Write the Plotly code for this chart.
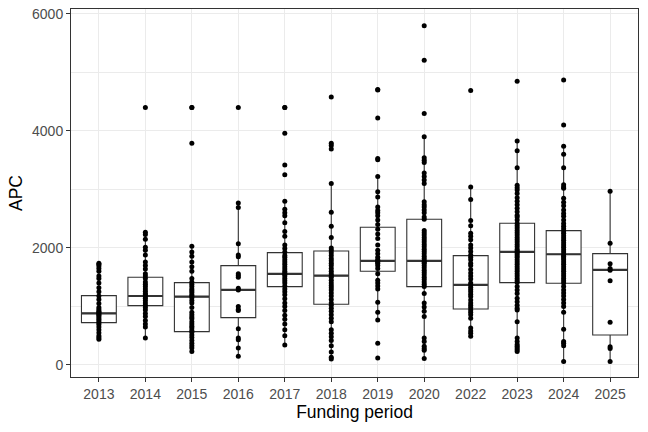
import plotly.graph_objects as go

periods = ["2013", "2014", "2015", "2016", "2017", "2018",
           "2019", "2020", "2022", "2023", "2024", "2025"]

# APC values per funding period
apc_2013 = [1740, 1720, 1690, 1650, 1600, 1520, 1480, 1400, 1320, 1250, 1180,
            1120, 1050, 980, 950, 920, 900, 880, 860, 840, 810, 780, 750, 720,
            690, 650, 600, 550, 500, 470, 440]
apc_2014 = [4400, 2270, 2230, 2150, 2010, 1960, 1880, 1760, 1700, 1640, 1560,
            1520, 1480, 1420, 1380, 1340, 1300, 1260, 1220, 1200, 1170, 1140,
            1100, 1060, 1020, 980, 940, 880, 830, 760, 700, 650, 460]
apc_2015 = [4400, 4400, 3790, 2030, 1930, 1860, 1760, 1680, 1600, 1480, 1420,
            1380, 1340, 1300, 1270, 1240, 1200, 1180, 1150, 1100, 1060, 980,
            900, 860, 820, 790, 740, 700, 660, 630, 590, 560, 510, 470, 420,
            370, 330, 290, 230]
apc_2016 = [4400, 2770, 2690, 2070, 1880, 1850, 1560, 1530, 1500, 1310, 1280,
            1000, 950, 930, 620, 460, 430, 290, 150]
apc_2017 = [4400, 4400, 3960, 3420, 3250, 2800, 2660, 2600, 2550, 2430, 2280,
            2200, 2050, 1990, 1930, 1870, 1840, 1800, 1760, 1720, 1680, 1640,
            1600, 1570, 1550, 1520, 1480, 1440, 1400, 1350, 1300, 1250, 1200,
            1130, 1060, 1000, 930, 850, 780, 700, 600, 500, 340]
apc_2018 = [4580, 3790, 3750, 3690, 3100, 2610, 2370, 2180, 2000, 1960, 1920,
            1870, 1820, 1780, 1740, 1700, 1650, 1600, 1560, 1530, 1500, 1450,
            1400, 1360, 1320, 1280, 1230, 1180, 1120, 1060, 1020, 970, 920, 860,
            800, 740, 600, 540, 480, 420, 330, 220, 130, 100]
apc_2019 = [4710, 4700, 4220, 3530, 3510, 3220, 2960, 2870, 2700, 2640, 2600,
            2550, 2480, 2400, 2320, 2240, 2160, 2050, 1960, 1900, 1840, 1800,
            1780, 1760, 1740, 1700, 1650, 1560, 1450, 1400, 1350, 1300, 1070,
            900, 770, 370, 120]
apc_2020 = [5800, 5210, 4300, 3900, 3540, 3500, 3460, 3280, 3220, 3160, 3100,
            2790, 2740, 2700, 2650, 2600, 2530, 2490, 2300, 2260, 2220, 2180,
            2140, 2100, 2060, 2020, 1980, 1940, 1900, 1860, 1820, 1780, 1760,
            1740, 1700, 1660, 1620, 1580, 1540, 1500, 1460, 1420, 1380, 1340,
            1220, 1060, 990, 920, 830, 460, 400, 320, 280, 250, 110]
apc_2022 = [4690, 3040, 2830, 2470, 2380, 2250, 2200, 2140, 2050, 2000, 1940,
            1880, 1840, 1800, 1740, 1700, 1630, 1570, 1520, 1470, 1400, 1370,
            1330, 1290, 1250, 1210, 1170, 1110, 1060, 1020, 980, 940, 900, 860,
            800, 630, 580, 540, 490]
apc_2023 = [4850, 3830, 3660, 3370, 3070, 3030, 2990, 2930, 2860, 2800, 2740,
            2680, 2620, 2560, 2530, 2480, 2420, 2380, 2340, 2300, 2260, 2220,
            2180, 2140, 2100, 2060, 2020, 1980, 1950, 1930, 1900, 1870, 1840,
            1800, 1760, 1720, 1680, 1640, 1600, 1560, 1520, 1480, 1440, 1410,
            1340, 1280, 1220, 1140, 1080, 1020, 970, 940, 740, 460, 400, 350,
            320, 290, 260, 230]
apc_2024 = [4870, 4100, 3740, 3600, 3370, 3080, 3040, 3020, 2850, 2780, 2720,
            2650, 2590, 2540, 2480, 2420, 2370, 2330, 2290, 2250, 2210, 2170,
            2130, 2090, 2050, 2010, 1970, 1930, 1890, 1860, 1830, 1800, 1760,
            1720, 1680, 1640, 1600, 1560, 1520, 1480, 1440, 1400, 1340, 1280,
            1230, 1180, 1120, 1060, 1000, 900, 610, 400, 370, 330, 60]
apc_2025 = [2970, 2080, 1730, 1650, 1620, 1440, 730, 310, 280, 60]

apc_values = [apc_2013, apc_2014, apc_2015, apc_2016, apc_2017, apc_2018,
              apc_2019, apc_2020, apc_2022, apc_2023, apc_2024, apc_2025]

# box statistics (hinges, median, whisker ends)
q1 = [724, 1014, 570, 809, 1339, 1037, 1601, 1339, 957, 1407, 1396, 513]
median = [883, 1179, 1168, 1282, 1556, 1527, 1778, 1778, 1368, 1932, 1892, 1624]
q3 = [1185, 1499, 1407, 1698, 1920, 1949, 2353, 2490, 1869, 2422, 2296, 1903]
lower_whisker = [440, 460, 230, 150, 340, 100, 770, 110, 490, 230, 60, 60]
upper_whisker = [1740, 2270, 2030, 2770, 2800, 3100, 3220, 3900, 3040, 3830, 3740, 2970]

point_x = [p for p, vals in zip(periods, apc_values) for _ in vals]
point_y = [v for vals in apc_values for v in vals]

edge = "#333333"
grid = "#EBEBEB"

fig = go.Figure()
fig.add_trace(go.Box(
    x=periods,
    q1=q1,
    median=median,
    q3=q3,
    lowerfence=lower_whisker,
    upperfence=upper_whisker,
    boxpoints=False,
    width=0.75,
    whiskerwidth=0,
    fillcolor="white",
    line={"color": edge, "width": 1.1},
    showlegend=False,
    hoverinfo="skip",
))
# thicker median bar, like ggplot's fatten (line-ew spans ~1.41 * size)
fig.add_trace(go.Scatter(
    x=periods,
    y=median,
    mode="markers",
    marker={"symbol": "line-ew", "size": 24.5, "line": {"color": edge, "width": 2.2}},
    showlegend=False,
    hoverinfo="skip",
))
fig.add_trace(go.Scatter(
    x=point_x,
    y=point_y,
    mode="markers",
    marker={"size": 5, "color": "black"},
    showlegend=False,
))

fig.update_layout(
    width=648,
    height=432,
    margin={"l": 71, "r": 10, "t": 9, "b": 55},
    plot_bgcolor="white",
    paper_bgcolor="white",
    font={"family": "Liberation Sans, Arial, sans-serif", "color": "black"},
    xaxis={
        "type": "category",
        "categoryorder": "array",
        "categoryarray": periods,
        "range": [-0.6, 11.6],
        "automargin": False,
        "showgrid": True,
        "gridcolor": grid,
        "gridwidth": 1,
        "showline": True,
        "mirror": True,
        "linecolor": edge,
        "linewidth": 1,
        "ticks": "outside",
        "ticklen": 4,
        "tickcolor": edge,
        "tickfont": {"size": 14, "color": "#4D4D4D"},
        "title": {"text": "Funding period", "font": {"size": 17.5}, "standoff": 2},
        "zeroline": False,
    },
    yaxis={
        "range": [-206, 6085],
        "tickvals": [0, 2000, 4000, 6000],
        "automargin": False,
        "showgrid": True,
        "gridcolor": grid,
        "gridwidth": 1,
        "minor": {"tickvals": [1000, 3000, 5000], "showgrid": True,
                  "gridcolor": grid, "gridwidth": 0.6},
        "showline": True,
        "mirror": True,
        "linecolor": edge,
        "linewidth": 1,
        "ticks": "outside",
        "ticklen": 4,
        "tickcolor": edge,
        "tickfont": {"size": 14, "color": "#4D4D4D"},
        "title": {"text": "APC", "font": {"size": 17.5}, "standoff": 4},
        "zeroline": False,
    },
)

# drop the browser's default body margin so the figure sits at the page corner
fig.write_html(
    "out.html",
    config={"displayModeBar": False},
    post_script="document.body.style.margin = '0';",
)
